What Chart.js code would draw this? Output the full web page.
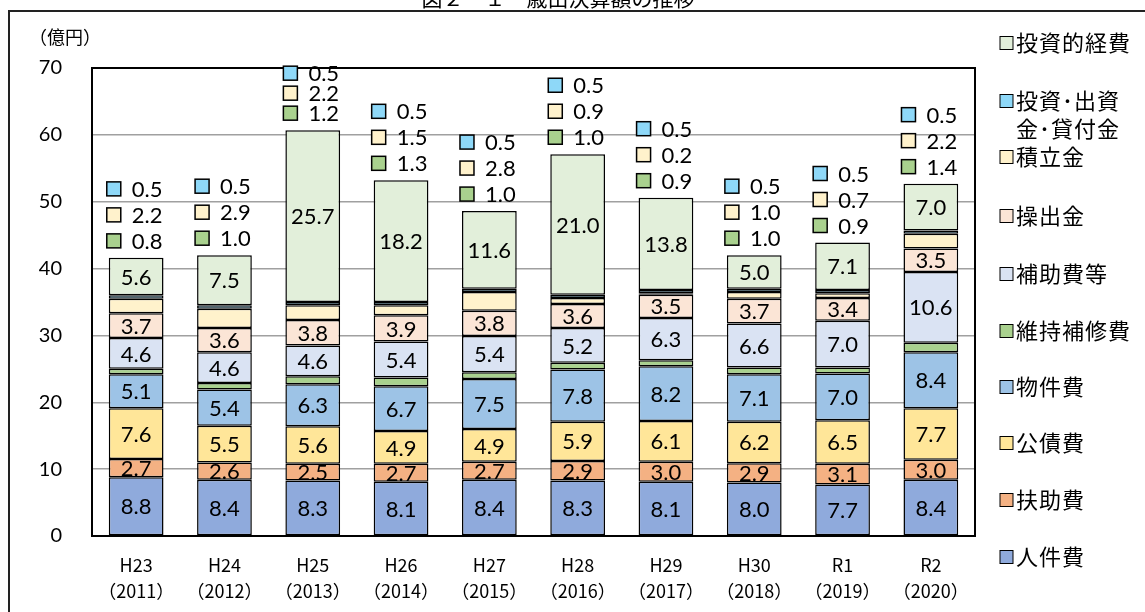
<!DOCTYPE html>
<html>
<head>
  <meta charset="utf-8">
  <title>歳出決算額の推移</title>
  <script src="https://cdn.jsdelivr.net/npm/chart.js@4/dist/chart.umd.min.js"></script>
  <style>
    html, body { margin: 0; padding: 0; background: #fff; }
    #wrap { width: 1145px; height: 612px; position: relative; }
  </style>
</head>
<body>
  <div id="wrap"><canvas id="chart" width="1145" height="612"></canvas></div>
  <script>
    // categories (fiscal years)
    var years = [['H23', '（2011）'], ['H24', '（2012）'], ['H25', '（2013）'], ['H26', '（2014）'], ['H27', '（2015）'],
                 ['H28', '（2016）'], ['H29', '（2017）'], ['H30', '（2018）'], ['R1', '（2019）'], ['R2', '（2020）']];

    // series, bottom of the stack first (億円)
    var jinkenhi   = [8.8, 8.4, 8.3, 8.1, 8.4, 8.3, 8.1, 8.0, 7.7, 8.4];
    var fujohi     = [2.7, 2.6, 2.5, 2.7, 2.7, 2.9, 3.0, 2.9, 3.1, 3.0];
    var kosaihi    = [7.6, 5.5, 5.6, 4.9, 4.9, 5.9, 6.1, 6.2, 6.5, 7.7];
    var bukkenhi   = [5.1, 5.4, 6.3, 6.7, 7.5, 7.8, 8.2, 7.1, 7.0, 8.4];
    var ijihoshu   = [0.8, 1.0, 1.2, 1.3, 1.0, 1.0, 0.9, 1.0, 0.9, 1.4];
    var hojohi     = [4.6, 4.6, 4.6, 5.4, 5.4, 5.2, 6.3, 6.6, 7.0, 10.6];
    var kuridashi  = [3.7, 3.6, 3.8, 3.9, 3.8, 3.6, 3.5, 3.7, 3.4, 3.5];
    var tsumitate  = [2.2, 2.9, 2.2, 1.5, 2.8, 0.9, 0.2, 1.0, 0.7, 2.2];
    var shusshi    = [0.5, 0.5, 0.5, 0.5, 0.5, 0.5, 0.5, 0.5, 0.5, 0.5];
    var toshiteki  = [5.6, 7.5, 25.7, 18.2, 11.6, 21.0, 13.8, 5.0, 7.1, 7.0];

    var yTicks = [0, 10, 20, 30, 40, 50, 60, 70];

    var series = [
      { label: '人件費', data: jinkenhi, color: '#8faadc', inside: true },
      { label: '扶助費', data: fujohi, color: '#f4b183', inside: true },
      { label: '公債費', data: kosaihi, color: '#ffe699', inside: true },
      { label: '物件費', data: bukkenhi, color: '#9dc3e6', inside: true },
      { label: '維持補修費', data: ijihoshu, color: '#a9d18e', inside: false },
      { label: '補助費等', data: hojohi, color: '#dae3f3', inside: true },
      { label: '操出金', data: kuridashi, color: '#fbe5d6', inside: true },
      { label: '積立金', data: tsumitate, color: '#fff2cc', inside: false },
      { label: '投資・出資金・貸付金', data: shusshi, color: '#8ed8f8', inside: false },
      { label: '投資的経費', data: toshiteki, color: '#e2efda', inside: true }
    ];
    // small items written above each bar, top row first
    var outsideSeries = ['投資・出資金・貸付金', '積立金', '維持補修費'];

    var NUM_FONT = 'Lato, "Noto Sans CJK JP", sans-serif';
    var JP_FONT = '"Noto Sans CJK JP", sans-serif';
    var AXIS_FONT = '"Noto Sans CJK SC", "Noto Sans CJK JP", sans-serif';

    var datasets = series.map(function (s) {
      return {
        label: s.label,
        data: s.data,
        backgroundColor: s.color,
        borderColor: '#000',
        borderWidth: 1.5,
        borderSkipped: false,
        barPercentage: 0.62,
        categoryPercentage: 1.0
      };
    });

    var decorations = {
      id: 'decorations',
      beforeDraw: function (chart) {
        var ctx = chart.ctx;
        ctx.save();
        ctx.fillStyle = '#fff';
        ctx.fillRect(0, 0, chart.width, chart.height);
        // outer frame
        ctx.strokeStyle = '#222';
        ctx.lineWidth = 2;
        ctx.strokeRect(9, 11, 1160, 640);
        // title, mostly cut off at the top
        ctx.fillStyle = '#000';
        ctx.font = '21px ' + JP_FONT;
        ctx.textAlign = 'center';
        ctx.textBaseline = 'alphabetic';
        ctx.fillText('図２－１　歳出決算額の推移', 558, 6);
        // unit
        ctx.font = '18px ' + AXIS_FONT;
        ctx.textAlign = 'left';
        ctx.textBaseline = 'middle';
        ctx.fillText('（億円）', 29, 37);
        ctx.restore();
      },
      afterDatasetsDraw: function (chart) {
        var ctx = chart.ctx;
        var area = chart.chartArea;
        ctx.save();
        // plot frame
        ctx.strokeStyle = '#000';
        ctx.lineWidth = 2;
        ctx.strokeRect(area.left, area.top, area.right - area.left, area.bottom - area.top);

        // values inside segments
        ctx.fillStyle = '#000';
        ctx.font = '22px ' + NUM_FONT;
        ctx.textAlign = 'center';
        ctx.textBaseline = 'middle';
        series.forEach(function (s, di) {
          if (!s.inside) return;
          chart.getDatasetMeta(di).data.forEach(function (bar, i) {
            var mid = (bar.y + bar.base) / 2;
            ctx.fillText(s.data[i].toFixed(1), bar.x, mid + 1);
          });
        });

        // small items above each bar
        var topMeta = chart.getDatasetMeta(series.length - 1);
        topMeta.data.forEach(function (bar, i) {
          var left = bar.x - bar.width / 2;
          var first = bar.y - 17;
          var step = Math.max(20, Math.min(26, (first - 79) / 2));
          outsideSeries.forEach(function (name, k) {
            var s = series.find(function (x) { return x.label === name; });
            var yc = first - (outsideSeries.length - 1 - k) * step;
            ctx.fillStyle = s.color;
            ctx.fillRect(left - 2, yc - 7, 14, 14);
            ctx.strokeStyle = '#000';
            ctx.lineWidth = 1.5;
            ctx.strokeRect(left - 2, yc - 7, 14, 14);
            ctx.fillStyle = '#000';
            ctx.textAlign = 'left';
            ctx.fillText(s.data[i].toFixed(1), left + 23, yc + 1);
          });
        });

        // legend on the right, top of stack first
        var legendY = [43, 101, 157, 216, 274, 331, 387, 443, 500, 557];
        ctx.font = '22px ' + JP_FONT;
        ctx.letterSpacing = '1px';
        ctx.textAlign = 'left';
        ctx.textBaseline = 'middle';
        series.slice().reverse().forEach(function (s, k) {
          var y = legendY[k];
          ctx.fillStyle = s.color;
          ctx.fillRect(1000, y - 6.5, 13, 13);
          ctx.strokeStyle = '#000';
          ctx.lineWidth = 1;
          ctx.strokeRect(1000, y - 6.5, 13, 13);
          ctx.fillStyle = '#000';
          if (s.label === '投資・出資金・貸付金') {
            ctx.fillText('投資･出資', 1016, y);
            ctx.fillText('金･貸付金', 1016, y + 28);
          } else {
            ctx.fillText(s.label, 1016, y);
          }
        });
        ctx.restore();
      }
    };

    new Chart(document.getElementById('chart'), {
      type: 'bar',
      data: { labels: years, datasets: datasets },
      options: {
        responsive: false,
        animation: false,
        devicePixelRatio: 1,
        layout: { padding: { top: 68, right: 170, bottom: 0, left: 0 } },
        plugins: {
          legend: { display: false },
          title: { display: false },
          tooltip: { enabled: false }
        },
        scales: {
          x: {
            stacked: true,
            grid: { display: false },
            border: { display: false },
            ticks: {
              color: '#000',
              padding: 8,
              font: { size: 18, family: AXIS_FONT, lineHeight: 1.45 }
            },
            afterFit: function (scale) { scale.height = 76; }
          },
          y: {
            stacked: true,
            min: yTicks[0],
            max: yTicks[yTicks.length - 1],
            afterBuildTicks: function (scale) {
              scale.ticks = yTicks.map(function (v) { return { value: v }; });
            },
            grid: { color: '#a0a0a0', lineWidth: 1.5, drawTicks: false },
            border: { display: false },
            ticks: {
              color: '#000',
              padding: 30,
              font: { size: 20, family: NUM_FONT }
            },
            afterFit: function (scale) { scale.width = 92; }
          }
        }
      },
      plugins: [decorations]
    });
  </script>
</body>
</html>
